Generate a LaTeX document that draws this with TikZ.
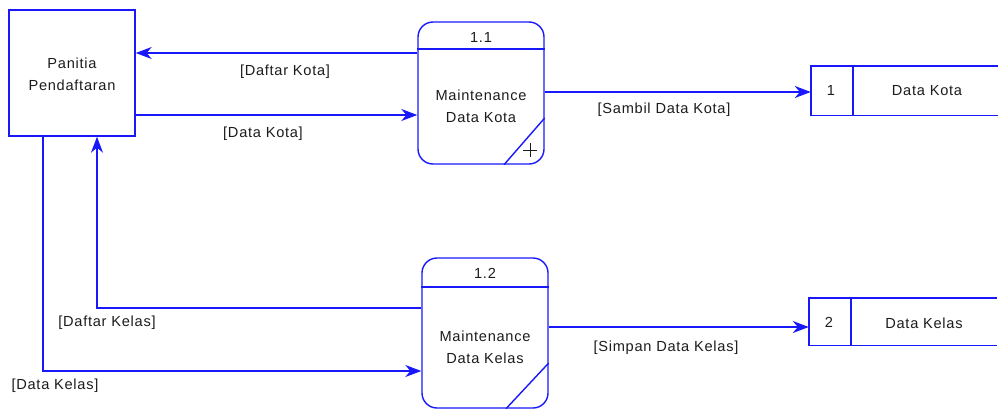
\documentclass[tikz,border=0pt]{standalone}
\usepackage{fontspec}
\setmainfont{Liberation Sans}[LetterSpace=5]
\usetikzlibrary{arrows.meta}
\definecolor{dfdblue}{RGB}{24,24,250}
\definecolor{dfdtext}{RGB}{28,28,28}
\tikzset{
  ln/.style={draw=dfdblue, line width=1.4pt},
  flow/.style={ln, -{Stealth[length=16pt,width=12pt,inset=5pt]}},
  txt/.style={font=\fontsize{14.6}{22}\selectfont, text=dfdtext, inner sep=0pt, align=center},
  entity/.style={ln, minimum width=126pt, minimum height=126pt, inner sep=0pt},
  proc/.style={ln, rounded corners=15pt, minimum width=126pt, inner sep=0pt},
  store/.style={minimum width=188pt, inner sep=0pt},
}
\begin{document}
\begin{tikzpicture}[x=1pt,y=-1pt]
\useasboundingbox (0,0) rectangle (998,410);

% external entity
\node[entity] (pan) at (72,73) {};
\node[txt] (pantxt) at (72,74) {Panitia\\Pendaftaran};

% process 1.1
\node[proc, minimum height=142pt] (p11) at (481,93) {};
\draw[ln] (p11.west |- 0,49) -- (p11.east |- 0,49);
\draw[ln] (p11.south -| 504,0) -- (p11.east |- 0,118);
\draw[draw=dfdtext, line width=0.9pt] (523,150) -- (537,150) (530,143) -- (530,157);
\node[txt] (p11id) at (481,37) {1.1};
\node[txt] (p11txt) at (481,106) {Maintenance\\Data Kota};

% process 1.2
\node[proc, minimum height=150pt] (p12) at (485,333) {};
\draw[ln] (p12.west |- 0,287) -- (p12.east |- 0,287);
\draw[ln] (p12.south -| 506,0) -- (p12.east |- 0,363);
\node[txt] (p12id) at (485,273) {1.2};
\node[txt] (p12txt) at (485,347) {Maintenance\\Data Kelas};

% data stores (open to the right)
\node[store, minimum height=49pt] (ds1) at (905,90.5) {};
\draw[ln] (ds1.north east) -- (ds1.north west) -- (ds1.south west) -- (ds1.south east);
\draw[ln] (ds1.north -| 853,0) -- (ds1.south -| 853,0);
\node[txt] (ds1id) at (831,90) {1};
\node[txt] (ds1txt) at (927,91) {Data Kota};

\node[store, minimum height=47pt] (ds2) at (903,321.5) {};
\draw[ln] (ds2.north east) -- (ds2.north west) -- (ds2.south west) -- (ds2.south east);
\draw[ln] (ds2.north -| 851,0) -- (ds2.south -| 851,0);
\node[txt] (ds2id) at (829,322) {2};
\node[txt] (ds2txt) at (924,323) {Data Kelas};

% data flows
\draw[flow] (p11.west |- 0,53) -- (pan.east |- 0,53);
\draw[flow] (pan.east |- 0,115) -- (p11.west |- 0,115);
\draw[flow] (p11.east |- 0,92) -- (ds1.west |- 0,92);
\draw[flow] (p12.west |- 0,308) -- (97,308) -- (pan.south -| 97,0);
\draw[flow] (pan.south -| 43,0) -- (43,371) -- (p12.west |- 0,371);
\draw[flow] (p12.east |- 0,327) -- (ds2.west |- 0,327);

% flow labels
\node[txt] (l1) at (285,72) {[Daftar Kota]};
\node[txt] (l2) at (263,134) {[Data Kota]};
\node[txt] (l3) at (664,110) {[Sambil Data Kota]};
\node[txt] (l4) at (666,348) {[Simpan Data Kelas]};
\node[txt] (l5) at (107,323) {[Daftar Kelas]};
\node[txt] (l6) at (55,386) {[Data Kelas]};
\end{tikzpicture}
\end{document}
